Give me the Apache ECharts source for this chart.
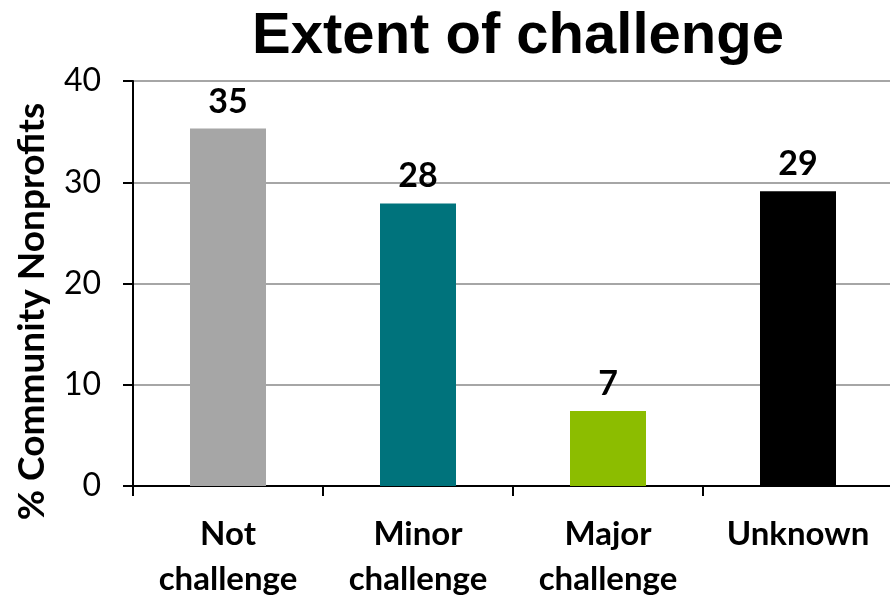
<!DOCTYPE html>
<html><head><meta charset="utf-8">
<script src="https://cdn.jsdelivr.net/npm/echarts@6/dist/echarts.min.js"></script>
<style>html,body{margin:0;padding:0;background:#fff}#c{width:890px;height:597px}</style>
</head><body><div id="c"></div>
<script>
const categories = ['Not\nchallenge', 'Minor\nchallenge', 'Major\nchallenge', 'Unknown'];
const values = [35.3, 27.9, 7.4, 29.1];
const colors = ['#a6a6a6', '#00737c', '#8cbd00', '#000000'];
const yTicks = [0, 10, 20, 30, 40];

const chart = echarts.init(document.getElementById('c'));
chart.setOption({
  animation: false,
  title: {
    text: 'Extent of challenge', left: 513, top: 3, textAlign: 'center',
    textStyle: { fontFamily: 'Liberation Sans', fontWeight: 'bold', fontSize: 58, color: '#000' }
  },
  grid: { left: 133, top: 81, width: 760, height: 405, outerBoundsMode: 'none', containLabel: false },
  xAxis: {
    type: 'category', data: categories,
    axisLine: { lineStyle: { color: '#000', width: 2 } },
    axisTick: { show: true, length: 10, lineStyle: { color: '#000', width: 2 } },
    axisLabel: { margin: 26, fontFamily: 'Lato', fontWeight: 'bold', fontSize: 33, lineHeight: 45, color: '#000', interval: 0 }
  },
  yAxis: {
    type: 'value', min: yTicks[0], max: yTicks[yTicks.length - 1], interval: 10,
    name: '% Community Nonprofits', nameLocation: 'middle', nameGap: 82,
    nameTextStyle: { fontFamily: 'Lato', fontWeight: 'bold', fontSize: 37, color: '#000', padding: [0, 56, 0, 0] },
    axisLine: { show: true, lineStyle: { color: '#000', width: 2 } },
    axisTick: { show: true, length: 10, lineStyle: { color: '#000', width: 2 } },
    axisLabel: { margin: 32, fontFamily: 'Lato', fontSize: 32, color: '#000' },
    splitLine: { lineStyle: { color: '#888', width: 1.5 } }
  },
  series: [{
    type: 'bar', barWidth: '40%',
    data: values.map((v, i) => ({ value: v, itemStyle: { color: colors[i] } })),
    label: {
      show: true, position: 'top', distance: 10,
      formatter: p => Math.round(p.value),
      fontFamily: 'Lato', fontWeight: 'bold', fontSize: 34, color: '#000'
    }
  }]
});
</script></body></html>
